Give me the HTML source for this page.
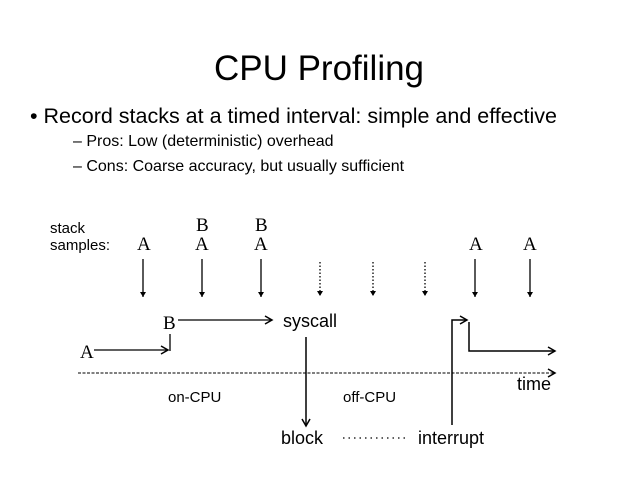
<!DOCTYPE html>
<html><head><style>
body{margin:0;width:638px;height:479px;background:#fff;overflow:hidden}
svg{display:block}
</style></head><body>
<svg width="638" height="479" xmlns="http://www.w3.org/2000/svg">
<defs><marker id="a" markerWidth="10" markerHeight="10" refX="8" refY="5" orient="auto" markerUnits="userSpaceOnUse"><path d="M1,1 L8,5 L1,9" fill="none" stroke="#000" stroke-width="1.5"/></marker>
<marker id="f" markerWidth="8" markerHeight="8" refX="4" refY="7" orient="0" markerUnits="userSpaceOnUse"><path d="M1,2 L4,7 L7,2 Z" fill="#000"/></marker></defs>
<g font-family="'Liberation Sans', sans-serif">
<text x="319" y="80" font-size="35" text-anchor="middle">CPU Profiling</text>
<text x="30" y="123" font-size="21.5">•  Record stacks at a timed interval: simple and effective</text>
<text x="73" y="146" font-size="16">– Pros: Low (deterministic) overhead</text>
<text x="73" y="171" font-size="16">– Cons: Coarse accuracy, but usually sufficient</text>
<g font-size="15"><text x="50" y="233">stack</text><text x="50" y="250">samples:</text>
<text x="168" y="402">on-CPU</text><text x="343" y="402">off-CPU</text></g>
<g font-size="18"><text x="283" y="327">syscall</text><text x="517" y="390">time</text>
<text x="281" y="444">block</text><text x="418" y="444">interrupt</text></g>
</g>
<g font-family="'Liberation Serif', serif" font-size="19">
<text x="137" y="250">A</text><text x="196" y="231">B</text><text x="195" y="250">A</text><text x="255" y="231">B</text><text x="254" y="250">A</text><text x="469" y="250">A</text><text x="523" y="250">A</text>
<text x="163" y="329">B</text><text x="80" y="358">A</text></g>
<g stroke="#000" stroke-width="1.3" fill="none">
<line x1="143" y1="259" x2="143" y2="297" marker-end="url(#f)"/>
<line x1="202" y1="259" x2="202" y2="297" marker-end="url(#f)"/>
<line x1="261" y1="259" x2="261" y2="297" marker-end="url(#f)"/>
<line x1="475" y1="259" x2="475" y2="297" marker-end="url(#f)"/>
<line x1="530" y1="259" x2="530" y2="297" marker-end="url(#f)"/>
<g stroke-dasharray="1.5 2"><line x1="320" y1="262" x2="320" y2="296" marker-end="url(#f)"/><line x1="373" y1="262" x2="373" y2="296" marker-end="url(#f)"/><line x1="425" y1="262" x2="425" y2="296" marker-end="url(#f)"/></g>
<line x1="178" y1="320" x2="272" y2="320" marker-end="url(#a)"/>
<polyline points="94,350 168,350" marker-end="url(#a)"/>
<line x1="170" y1="334" x2="170" y2="351"/>
<line x1="78" y1="373" x2="555" y2="373" stroke-dasharray="3 1.5" stroke-width="1" marker-end="url(#a)"/>
<line x1="306" y1="337" x2="306" y2="426" stroke-width="1.5" marker-end="url(#a)"/>
<line x1="343" y1="438" x2="408" y2="438" stroke-dasharray="1.5 4"/>
<polyline points="452,425 452,320 467,320" stroke-width="1.5" marker-end="url(#a)"/>
<polyline points="469,322 469,351 555,351" stroke-width="1.5" marker-end="url(#a)"/>
</g>
</svg>
</body></html>
